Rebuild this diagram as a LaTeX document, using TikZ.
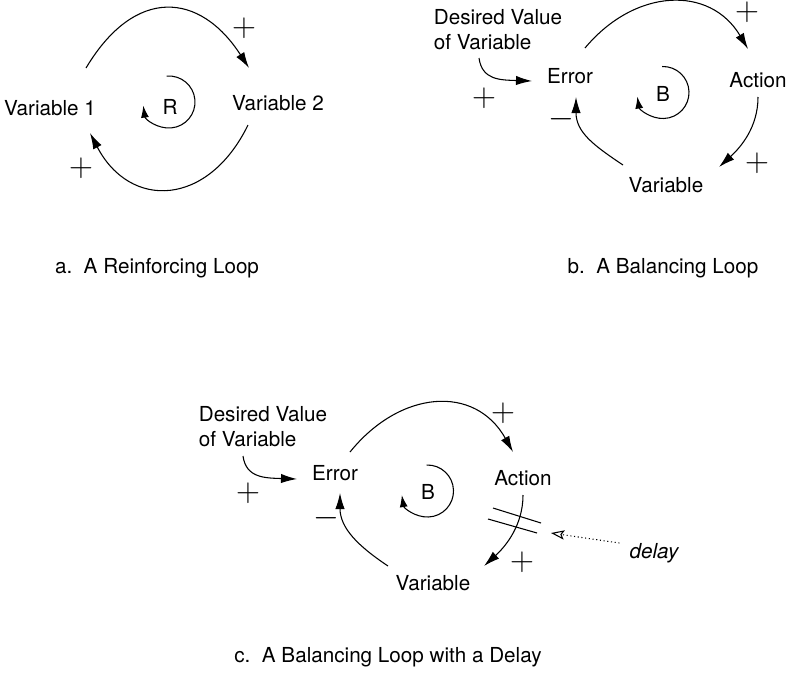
\documentclass[tikz,border=0pt]{standalone}
\usepackage{fontspec}
\setmainfont{TeX Gyre Heros}
\usetikzlibrary{arrows.meta,calc}
\begin{document}
\begin{tikzpicture}[x=0.75pt,y=-0.75pt,
  lbl/.style={font=\fontsize{15.5}{18.75}\selectfont, inner sep=0pt},
  sgn/.style={font=\fontsize{23}{23}\selectfont, inner sep=0pt},
  link/.style={line width=0.8pt, -{Latex[length=12pt,width=7pt]}},
  looparr/.style={line width=0.8pt, -{Latex[length=9pt,width=6pt]}},
  delaymark/.style={line width=0.8pt},
  pointer/.style={dotted, line width=0.8pt, -{Stealth[open,length=10pt,width=7pt,inset=2pt]}}
]
\useasboundingbox (0,0) rectangle (787,683);

% ---------- a. Reinforcing loop ----------
\node[lbl] (v1) at (50,108) {Variable 1};
\node[lbl] (v2) at (278,103) {Variable 2};
\node[lbl] (R) at (170,107) {R};
\node[sgn] (pa1) at (244,28) {$+$};
\node[sgn] (pa2) at (81,168) {$+$};
\draw[link] ($(v1)+(36,-40)$) .. controls +(49,-82) and +(-49,-76) .. ($(v2)+(-29,-35)$);
\draw[link] ($(v2)+(-30,22)$) .. controls +(-40,82) and +(40,77) .. ($(v1)+(40,25)$);
\draw[looparr] ($(R)+(-1,-5)$) ++(-95:26) arc[start angle=-95, end angle=172, radius=26];
\node[lbl] (ca) at (157,268) {a.\ \ A Reinforcing Loop};

% ---------- b. Balancing loop ----------
\node[lbl, align=left] (desb) at (498,29.5) {Desired Value\\of Variable};
\node[lbl] (errb) at (570,76) {Error};
\node[lbl] (actb) at (758,80) {Action};
\node[lbl] (varb) at (666,185) {Variable};
\node[lbl] (Bb) at (663,94) {B};
\node[sgn] (pb1) at (747,12) {$+$};
\node[sgn] (pb2) at (484,98) {$+$};
\node[sgn] (pb3) at (757,163) {$+$};
\node[sgn] (mb1) at (561,119) {$-$};
\draw[link] ($(errb)+(15,-28)$) .. controls +(50,-60) and +(-38,-64) .. ($(actb)+(-10,-31)$);
\draw[link] ($(desb)+(-19,28.5)$) .. controls +(3,22) and +(-32,-1) .. ($(errb)+(-38,5)$);
\draw[link] ($(actb)+(0,17)$) .. controls +(0,30) and +(22,-20) .. ($(varb)+(53,-18)$);
\draw[link] ($(varb)+(-43,-20)$) .. controls +(-30,-20) and +(0,35) .. ($(errb)+(6,21)$);
\draw[looparr] ($(Bb)+(0,-1.5)$) ++(-92:26) arc[start angle=-92, end angle=171, radius=26];
\node[lbl] (cb) at (663,268) {b.\ \ A Balancing Loop};

% ---------- c. Balancing loop with delay ----------
\node[lbl, align=left] (desc) at (263,427) {Desired Value\\of Variable};
\node[lbl] (errc) at (335,473) {Error};
\node[lbl] (actc) at (523,478) {Action};
\node[lbl] (varc) at (433,583) {Variable};
\node[lbl] (Bc) at (428,492) {B};
\node[sgn] (pc1) at (503,413) {$+$};
\node[sgn] (pc2) at (248,493) {$+$};
\node[sgn] (pc3) at (522,562) {$+$};
\node[sgn] (mc1) at (326,518) {$-$};
\draw[link] ($(errc)+(15,-21)$) .. controls +(50,-62) and +(-38,-68) .. ($(actc)+(-10,-26)$);
\draw[link] ($(desc)+(-20,29)$) .. controls +(3,22) and +(-32,-1) .. ($(errc)+(-38,6)$);
\draw[link] ($(actc)+(0,17)$) .. controls +(0,30) and +(22,-20) .. ($(varc)+(51,-17)$);
\draw[link] ($(varc)+(-45,-17)$) .. controls +(-30,-20) and +(0,35) .. ($(errc)+(5,20)$);
\draw[looparr] ($(Bc)+(-0.5,-1)$) ++(-92:26) arc[start angle=-92, end angle=171, radius=26];
\coordinate (d1a) at (493,508); \coordinate (d1b) at (541,523);
\coordinate (d2a) at (488,519); \coordinate (d2b) at (537,533);
\draw[delaymark] (d1a) -- (d1b);
\draw[delaymark] (d2a) -- (d2b);
\coordinate (dtip) at (551,533);
\node[lbl, font=\fontsize{15.5}{18.75}\selectfont\itshape] (dl) at (654,553) {delay};
\draw[pointer] ($(dl.west)+(-10,-10)$) -- (dtip);
\node[lbl] (cc) at (388,657) {c.\ \ A Balancing Loop with a Delay};
\end{tikzpicture}
\end{document}
